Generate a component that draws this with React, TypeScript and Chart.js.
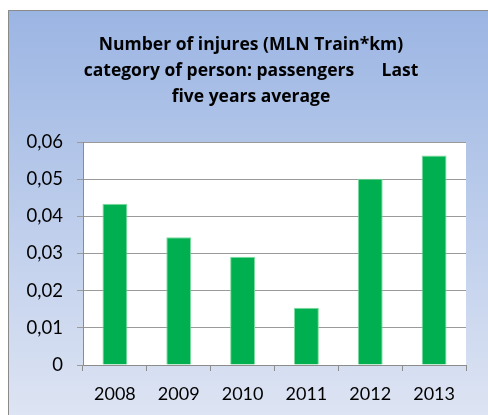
import React, { useEffect, useRef } from "react";
import { Chart, registerables } from "chart.js";

Chart.register(...registerables);

const years = ["2008", "2009", "2010", "2011", "2012", "2013"];
const injuries = [0.0434, 0.0344, 0.0291, 0.0154, 0.0501, 0.0564];
const titleLines = [
  "Number of injures (MLN Train*km)",
  "category of person: passengers      Last",
  "five years average",
];
const yMin = 0;
const yMax = 0.06;
const yStep = 0.01;

const backgroundPlugin = {
  id: "frameBackground",
  afterLayout(chart: any) {
    const y = chart.scales.y;
    if (y) y.left = 0;
  },
  beforeDraw(chart: any) {
    const { ctx, width, height, chartArea } = chart;
    ctx.save();
    ctx.fillStyle = "#ffffff";
    ctx.fillRect(0, 0, width, height);
    const g = ctx.createLinearGradient(0, 10, 0, height);
    g.addColorStop(0, "#9bb5e3");
    g.addColorStop(1, "#dde4f3");
    ctx.fillStyle = g;
    ctx.fillRect(8, 10, width - 8, height - 10);
    ctx.strokeStyle = "#8a8a8a";
    ctx.lineWidth = 1;
    ctx.beginPath();
    ctx.moveTo(8.5, height);
    ctx.lineTo(8.5, 10.5);
    ctx.lineTo(width, 10.5);
    ctx.stroke();
    ctx.fillStyle = "#ffffff";
    ctx.fillRect(
      chartArea.left,
      chartArea.top,
      chartArea.right - chartArea.left,
      chartArea.bottom - chartArea.top
    );
    ctx.restore();
  },
};

export default function App() {
  const ref = useRef<HTMLCanvasElement | null>(null);

  useEffect(() => {
    if (!ref.current) return;
    const chart = new Chart(ref.current, {
      type: "bar",
      data: {
        labels: years,
        datasets: [
          {
            data: injuries,
            backgroundColor: "#00b050",
            borderColor: "#7fdca0",
            borderWidth: 1,
            categoryPercentage: 1,
            barPercentage: 0.39,
          },
        ],
      },
      options: {
        animation: false,
        responsive: false,
        layout: { padding: { left: 36, right: 22, top: 0, bottom: 0 } },
        plugins: {
          legend: { display: false },
          tooltip: { enabled: false },
          title: {
            display: true,
            text: titleLines,
            color: "#000000",
            font: { family: "Open Sans", size: 17.5, weight: "bold", lineHeight: "26px" } as any,
            padding: { top: 32, bottom: 32 },
          },
        },
        scales: {
          x: {
            afterFit(scale: any) {
              scale.height = 50;
            },
            grid: {
              offset: true,
              drawOnChartArea: false,
              drawTicks: true,
              tickLength: 6,
              color: "#8c8c8c",
            },
            border: { display: true, color: "#8c8c8c" },
            ticks: {
              color: "#000000",
              font: { family: "Lato", size: 18 },
              padding: 12,
              maxRotation: 0,
            },
          },
          y: {
            min: yMin,
            max: yMax,
            afterFit(scale: any) {
              scale.width = 47;
            },
            grid: {
              color: "#9a9a9a",
              tickLength: 6,
              drawTicks: true,
            },
            border: { display: true, color: "#8c8c8c" },
            ticks: {
              stepSize: yStep,
              color: "#000000",
              font: { family: "Lato", size: 18.5 },
              padding: 14,
              callback: (v: any) => {
                const n = Number(v);
                if (Math.abs(n) < 1e-9) return "0";
                return n.toFixed(2).replace(".", ",");
              },
            },
          },
        },
      },
      plugins: [backgroundPlugin],
    });
    return () => chart.destroy();
  }, []);

  return (
    <canvas
      ref={ref}
      width={488}
      height={415}
      style={{ position: "fixed", left: 0, top: 0, width: 488, height: 415 }}
    />
  );
}
